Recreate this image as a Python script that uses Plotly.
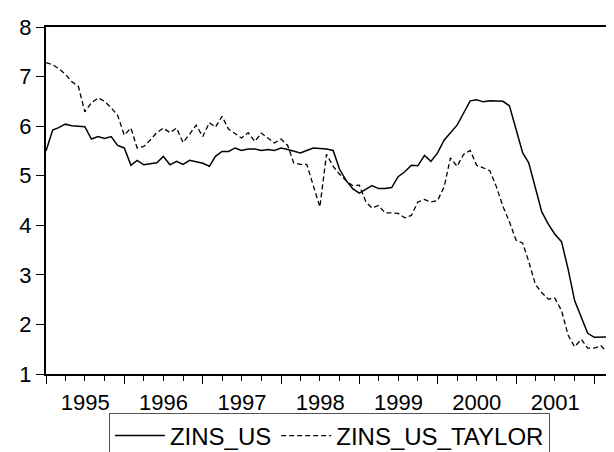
import pandas as pd
import plotly.graph_objects as go

start_month = "1995-01-01"
n_obs = 89

zins_us = [
    5.50, 5.92, 5.97, 6.04, 6.01, 6.00, 5.99, 5.74, 5.79, 5.75, 5.79, 5.61,
    5.56, 5.21, 5.31, 5.22, 5.24, 5.26, 5.39, 5.22, 5.29, 5.23, 5.31, 5.28,
    5.25, 5.19, 5.39, 5.49, 5.49, 5.56, 5.51, 5.54, 5.54, 5.51, 5.53, 5.51,
    5.56, 5.53, 5.49, 5.46, 5.51, 5.56, 5.55, 5.54, 5.51, 5.13, 4.90, 4.74,
    4.65, 4.73, 4.80, 4.74, 4.74, 4.76, 4.98, 5.08, 5.21, 5.20, 5.41, 5.29,
    5.46, 5.72, 5.87, 6.02, 6.26, 6.51, 6.53, 6.49, 6.51, 6.51, 6.50, 6.41,
    5.91, 5.46, 5.26, 4.78, 4.27, 4.02, 3.82, 3.67, 3.11, 2.48, 2.15, 1.82,
    1.74, 1.74, 1.74, 1.75, 1.76,
]

zins_us_taylor = [
    7.28, 7.24, 7.16, 7.05, 6.90, 6.80, 6.29, 6.47, 6.57, 6.50, 6.37, 6.22,
    5.82, 5.96, 5.56, 5.59, 5.72, 5.87, 5.96, 5.87, 5.96, 5.67, 5.84, 6.02,
    5.79, 6.07, 5.98, 6.20, 5.94, 5.84, 5.76, 5.87, 5.69, 5.86, 5.76, 5.66,
    5.74, 5.61, 5.26, 5.23, 5.23, 4.80, 4.37, 5.43, 5.19, 5.03, 4.90, 4.80,
    4.81, 4.47, 4.35, 4.40, 4.25, 4.25, 4.24, 4.15, 4.20, 4.47, 4.52, 4.47,
    4.50, 4.78, 5.36, 5.19, 5.43, 5.51, 5.21, 5.16, 5.10, 4.78, 4.38, 4.07,
    3.70, 3.64, 3.27, 2.81, 2.64, 2.51, 2.53, 2.28, 1.78, 1.55, 1.70, 1.52,
    1.52, 1.57, 1.44, 1.62, 1.75,
]

y_ticks = [1, 2, 3, 4, 5, 6, 7, 8]

dates = pd.date_range(start_month, periods=n_obs, freq="MS")

FONT = "Liberation Sans, Arial, Helvetica, sans-serif"

fig = go.Figure()
fig.add_trace(go.Scatter(
    x=dates, y=zins_us, mode="lines", name="ZINS_US",
    line=dict(color="black", width=1.5),
))
fig.add_trace(go.Scatter(
    x=dates, y=zins_us_taylor, mode="lines", name="ZINS_US_TAYLOR",
    line=dict(color="black", width=1.3, dash="5px,3px"),
))

fig.update_layout(
    width=614, height=452,
    margin=dict(l=38, r=0, t=19, b=81),
    paper_bgcolor="white", plot_bgcolor="white",
    font=dict(family=FONT, color="black", size=22),
    showlegend=True,
    legend=dict(
        orientation="h", x=0.492, xanchor="center", y=-0.111, yanchor="top",
        bordercolor="#555555", borderwidth=1, bgcolor="white",
        font=dict(family=FONT, size=24, color="black"),
        itemwidth=50,
    ),
)
fig.update_xaxes(
    type="date", range=["1995-01-01", "2002-05-10"],
    showgrid=False, zeroline=False,
    showline=True, linecolor="black", linewidth=2, mirror=True,
    ticks="outside", ticklen=8, tickwidth=1, tickcolor="black",
    tick0="1995-01-01", dtick="M12", tickformat="%Y", ticklabelmode="period",
    tickfont=dict(family=FONT, size=22, color="black"),
    minor=dict(dtick="M3", ticks="outside", ticklen=5, tickwidth=1, tickcolor="black", showgrid=False),
)
fig.update_yaxes(
    range=[1, 8], tickvals=y_ticks,
    showgrid=False, zeroline=False,
    showline=True, linecolor="black", linewidth=2, mirror=False,
    ticks="outside", ticklen=8, tickwidth=1, tickcolor="black",
    tickfont=dict(family=FONT, size=22, color="black"),
)

fig.write_html("out.html")
